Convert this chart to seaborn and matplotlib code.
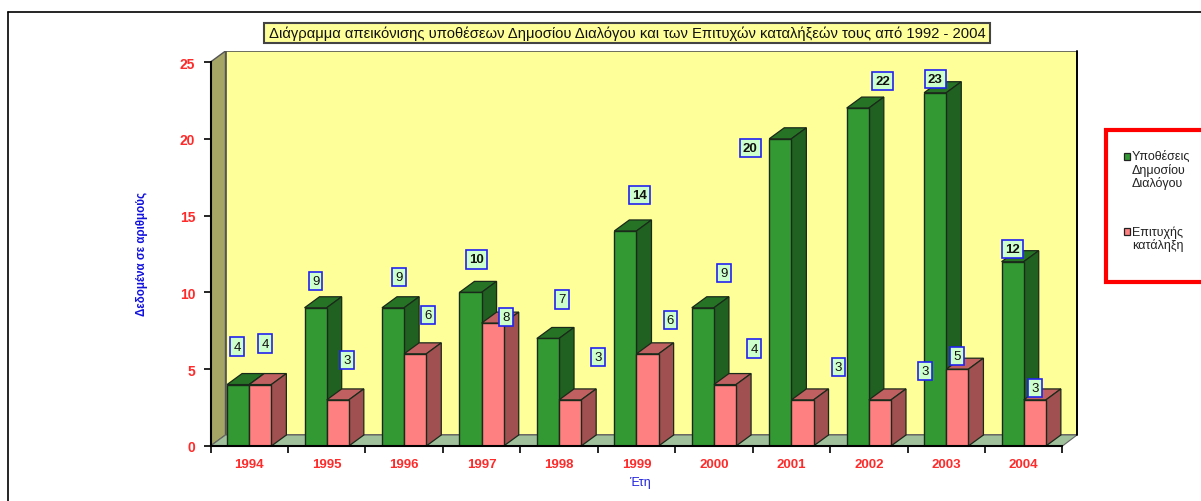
import matplotlib
matplotlib.use("Agg")
import matplotlib.pyplot as plt
from matplotlib.legend_handler import HandlerPatch
from matplotlib.patches import Polygon, Rectangle
from matplotlib.ticker import FixedLocator, NullFormatter
from matplotlib.lines import Line2D
import pandas as pd
import seaborn as sns

years = ["1994", "1995", "1996", "1997", "1998", "1999", "2000", "2001", "2002", "2003", "2004"]
cases = [4, 9, 9, 10, 7, 14, 9, 20, 22, 23, 12]
success = [4, 3, 6, 8, 3, 6, 4, 3, 3, 5, 3]
series_names = ["Υποθέσεις\nΔημοσίου\nΔιαλόγου", "Επιτυχής\nκατάληξη"]
title_text = "Διάγραμμα απεικόνισης υποθέσεων Δημοσίου Διαλόγου και των Επιτυχών καταλήξεών τους από 1992 - 2004"
y_title = "Δεδομένα σε αριθμούς"
x_title = "Έτη"

# Label displacement from the top-centre of each bar (pixels, hand placed in the source chart)
cases_off = [(-1, 38), (0, 27), (6, 31), (6, 33), (14, 39), (14, 36), (21, 35), (-30, -9), (25, 27), (0, 14), (0, 13)]
success_off = [(5, 41), (9, 40), (13, 39), (13, 6), (28, 43), (23, 34), (29, 36), (36, 33), (45, 29), (0, 13), (0, 12)]

W, H = 1201, 502
X0, X1 = 210.5, 1077    # front-left of floor, right of back wall
Y0, YT = 447, 52        # floor front, top of back wall
CAT_W = 77.45
UNIT = 15.36
DX_PX, DY_PX = 15, 11

df = pd.DataFrame({
    "year": years * 2,
    "value": cases + success,
    "series": [series_names[0]] * len(years) + [series_names[1]] * len(years),
})

sns.set_theme(style="white")
plt.rcParams["font.family"] = ["Liberation Sans", "DejaVu Sans"]

fig = plt.figure(figsize=(W / 100, H / 100), dpi=100, facecolor="white")
ax = fig.add_axes([X0 / W, 1 - Y0 / H, (X1 - X0) / W, (Y0 - YT) / H])
ax.patch.set_visible(False)

GREEN, GREEN_TOP, GREEN_SIDE = "#339933", "#267326", "#206020"
RED, RED_TOP, RED_SIDE = "#FF8080", "#C06060", "#A05050"
EDGE = "#1a2a1a"

sns.barplot(data=df, x="year", y="value", hue="series", hue_order=series_names,
            palette=[GREEN, RED], width=0.572, gap=0, saturation=1, legend=False, ax=ax)

xmin = -0.5
ax.set_xlim(xmin, xmin + (X1 - X0) / CAT_W)
ax.set_ylim(0, (Y0 - YT) / UNIT)
dx, dy = DX_PX / CAT_W, DY_PX / UNIT
n = len(years)
ymax = 25

# Walls and floor
wall_x0, wall_x1 = xmin + dx, ax.get_xlim()[1]
ax.add_patch(Polygon([(wall_x0, dy), (wall_x1, dy), (wall_x1, ymax + dy), (wall_x0, ymax + dy)],
                     fc="#FFFF99", ec="#555555", lw=1.2, zorder=0.5))
ax.add_patch(Polygon([(xmin, 0), (wall_x0, dy), (wall_x0, ymax + dy), (xmin, ymax)],
                     fc="#A5A566", ec="#555555", lw=1.0, zorder=0.6))
ax.add_patch(Polygon([(xmin, 0), (xmin + n, 0), (wall_x1, dy), (wall_x0, dy)],
                     fc="#A0C09C", ec="#666666", lw=0.8, zorder=0.6))
ax.plot([wall_x1, wall_x1], [dy, ymax + dy], color="black", lw=1.4, zorder=0.7, clip_on=False)

# Depth faces built from the seaborn bars
styles = [(GREEN_TOP, GREEN_SIDE, 3), (RED_TOP, RED_SIDE, 4)]
for container, (top_c, side_c, z) in zip(ax.containers, styles):
    for bar in container:
        x, w, h = bar.get_x(), bar.get_width(), bar.get_height()
        bar.set_edgecolor(EDGE)
        bar.set_linewidth(1.0)
        bar.set_zorder(z + 0.2)
        ax.add_patch(Polygon([(x, h), (x + w, h), (x + w + dx, h + dy), (x + dx, h + dy)],
                             fc=top_c, ec=EDGE, lw=0.9, zorder=z))
        ax.add_patch(Polygon([(x + w, 0), (x + w + dx, dy), (x + w + dx, h + dy), (x + w, h)],
                             fc=side_c, ec=EDGE, lw=0.9, zorder=z))

# Value labels
for container, offs in zip(ax.containers, (cases_off, success_off)):
    for bar, off in zip(container, offs):
        ax.annotate(f"{int(bar.get_height())}",
                    (bar.get_x() + bar.get_width() / 2, bar.get_height()),
                    xytext=off, textcoords="offset pixels", ha="center", va="center",
                    fontsize=9.5, fontweight="bold" if bar.get_height() >= 10 else "normal",
                    color="#111111", zorder=10,
                    bbox=dict(boxstyle="square,pad=0.24", fc="#CCFFCC", ec="#2222EE", lw=1.2))

# Axes furniture
for s in ("top", "right"):
    ax.spines[s].set_visible(False)
ax.spines["left"].set_bounds(0, ymax)
ax.spines["bottom"].set_bounds(xmin, xmin + n)
for s in ("left", "bottom"):
    ax.spines[s].set_color("black")
    ax.spines[s].set_linewidth(1.5)
    ax.spines[s].set_zorder(6)

ax.set_yticks(range(0, ymax + 1, 5))
ax.set_xticks([i for i in range(n)])
ax.set_xticklabels(years)
ax.xaxis.set_minor_locator(FixedLocator([xmin + i for i in range(n + 1)]))
ax.xaxis.set_minor_formatter(NullFormatter())
ax.tick_params(axis="x", which="major", length=0, pad=9, labelsize=9.5, labelcolor="#FF2A2A")
ax.tick_params(axis="x", which="minor", length=5, width=1.2, color="black", bottom=True)
ax.tick_params(axis="y", length=5, width=1.2, color="black", left=True, pad=6, labelsize=10, labelcolor="#FF2A2A")
for lab in ax.get_xticklabels() + ax.get_yticklabels():
    lab.set_fontweight("bold")
ax.set_xlabel("")
ax.set_ylabel("")

# Axis titles
fig.text(640 / W, 1 - 483 / H, x_title, color="#2222DD", fontsize=9, ha="center", va="center")
fig.text(142 / W, 1 - 254 / H, y_title, color="#1111DD", fontsize=8.3, fontweight="bold",
         rotation=90, ha="center", va="center")

# Title box
fig.patches.append(Rectangle((264 / W, 1 - 44 / H), 726 / W, 20 / H, transform=fig.transFigure,
                             fc="#FFFF99", ec="#444444", lw=1.5, figure=fig))
fig.text(627 / W, 1 - 34 / H, title_text, color="#111111", fontsize=10.6, ha="center", va="center")

# Page frame
fig.add_artist(Line2D([7.5 / W, 7.5 / W], [1 - 12.5 / H, 0], color="black", lw=1.2))
fig.add_artist(Line2D([7.5 / W, 1], [1 - 12.5 / H, 1 - 12.5 / H], color="black", lw=1.2))

# Legend with a red frame that runs off the page
fig.patches.append(Rectangle((1106 / W, 1 - 283 / H), 110 / W, 152 / H, transform=fig.transFigure,
                             fc="white", ec="#FF0000", lw=3, figure=fig))

LEG_FS, LEG_LS = 9, 1.04


def first_line_patch(lines):
    """Legend key set against the first line of a multi-line label."""
    def make(legend, orig_handle, xdescent, ydescent, width, height, fontsize):
        shift = (lines - 1) * fontsize * LEG_LS / 2
        return Rectangle((-xdescent, -ydescent + shift), width, height)
    return HandlerPatch(patch_func=make)


handles = [Rectangle((0, 0), 1, 1, fc=GREEN, ec="#222222", lw=0.9),
           Rectangle((0, 0), 1, 1, fc=RED, ec="#222222", lw=0.9)]
leg = fig.legend(handles, series_names, loc="upper left", bbox_to_anchor=(1124 / W, 1 - 151 / H),
                 frameon=False, fontsize=LEG_FS, handlelength=0.5, handleheight=0.5, handletextpad=0.14,
                 labelspacing=2.9, borderpad=0, borderaxespad=0, labelcolor="#222222",
                 handler_map={handles[0]: first_line_patch(3), handles[1]: first_line_patch(2)})
for t in leg.get_texts():
    t.set_linespacing(LEG_LS)

fig.savefig("out.png", dpi=100, facecolor="white")
